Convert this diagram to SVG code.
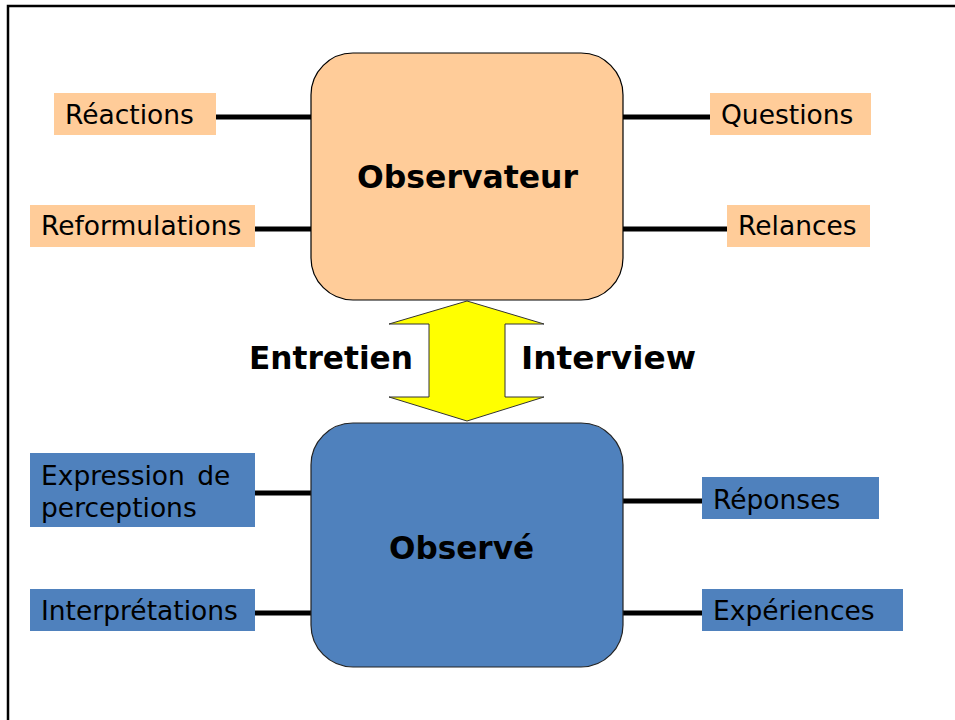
<svg xmlns="http://www.w3.org/2000/svg" width="955" height="720" viewBox="0 0 955 720">
<style>
.lbl{font-family:"DejaVu Sans",Verdana,sans-serif;font-size:26.5px;fill:#000}
.big{font-family:"DejaVu Sans",Verdana,sans-serif;font-size:31.5px;font-weight:bold;fill:#000}
.peach{fill:#FFCC99}
.blue{fill:#4F81BD}
.conn{stroke:#000;stroke-width:5;fill:none}
</style>
<rect width="955" height="720" fill="#fff"/>
<path d="M8,720 V6 H955" fill="none" stroke="#000" stroke-width="2.5"/>
<g id="connectors">
<line class="conn" x1="216" y1="117" x2="311" y2="117"/>
<line class="conn" x1="255" y1="229" x2="311" y2="229"/>
<line class="conn" x1="623" y1="117" x2="710" y2="117"/>
<line class="conn" x1="623" y1="229" x2="727" y2="229"/>
<line class="conn" x1="255" y1="493" x2="311" y2="493"/>
<line class="conn" x1="255" y1="613" x2="311" y2="613"/>
<line class="conn" x1="623" y1="501" x2="702" y2="501"/>
<line class="conn" x1="623" y1="613" x2="702" y2="613"/>
<g id="arrow">
<polygon points="467,301 544,324 505,324 505,397 544,397 467,421 389,397 429,397 429,324 389,324" fill="#FFFF00" stroke="#333" stroke-width="1"/>
</g>
</g>
<g id="observateur">
<rect x="311" y="53" width="312" height="247" rx="42" ry="42" class="peach" stroke="#000" stroke-width="1.2"/>
<text class="big" x="357" y="188" textLength="221" lengthAdjust="spacingAndGlyphs">Observateur</text>
</g>
<g id="observe">
<rect x="311" y="423" width="312" height="244" rx="42" ry="42" class="blue" stroke="#222" stroke-width="1.2"/>
<text class="big" x="389" y="559" textLength="145" lengthAdjust="spacingAndGlyphs">Observé</text>
</g>
<g id="entretien"><text class="big" x="249" y="369" textLength="164" lengthAdjust="spacingAndGlyphs">Entretien</text></g>
<g id="interview"><text class="big" x="521" y="369" textLength="175" lengthAdjust="spacingAndGlyphs">Interview</text></g>
<g id="reactions"><rect x="54" y="93" width="162" height="42" class="peach"/><text class="lbl" x="65" y="124">Réactions</text></g>
<g id="reformulations"><rect x="30" y="205" width="225" height="42" class="peach"/><text class="lbl" x="41" y="235">Reformulations</text></g>
<g id="questions"><rect x="710" y="93" width="161" height="42" class="peach"/><text class="lbl" x="721" y="124">Questions</text></g>
<g id="relances"><rect x="727" y="205" width="143" height="42" class="peach"/><text class="lbl" x="738" y="235">Relances</text></g>
<g id="expression"><rect x="30" y="453" width="225" height="74" class="blue"/><text class="lbl" x="41" y="485" word-spacing="4">Expression de</text><text class="lbl" x="41" y="517">perceptions</text></g>
<g id="interpretations"><rect x="30" y="589" width="225" height="42" class="blue"/><text class="lbl" x="41" y="620">Interprétations</text></g>
<g id="reponses"><rect x="702" y="477" width="177" height="42" class="blue"/><text class="lbl" x="713" y="509">Réponses</text></g>
<g id="experiences"><rect x="702" y="589" width="201" height="42" class="blue"/><text class="lbl" x="713" y="620">Expériences</text></g>
</svg>
